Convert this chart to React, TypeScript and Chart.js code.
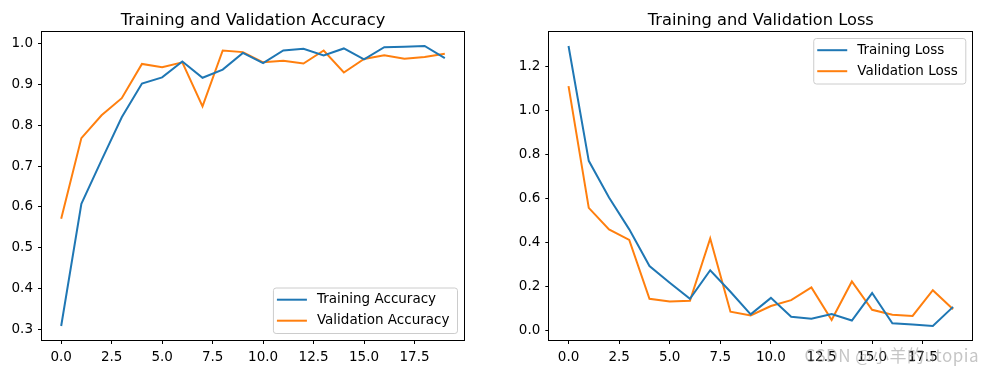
import React, { useEffect, useRef } from 'react';
import { Chart, registerables } from 'chart.js';

Chart.register(...registerables);

// ---------- data ----------
const epochs = [0, 1, 2, 3, 4, 5, 6, 7, 8, 9, 10, 11, 12, 13, 14, 15, 16, 17, 18, 19];
const trainAcc = [0.308, 0.608, 0.715, 0.82, 0.903, 0.918, 0.957, 0.917, 0.937, 0.978, 0.953, 0.984, 0.988, 0.972, 0.989, 0.962, 0.992, 0.993, 0.995, 0.965];
const valAcc = [0.571, 0.769, 0.825, 0.867, 0.951, 0.943, 0.955, 0.847, 0.984, 0.98, 0.955, 0.959, 0.952, 0.984, 0.93, 0.963, 0.972, 0.964, 0.968, 0.976];
const trainLoss = [1.295, 0.772, 0.605, 0.46, 0.293, 0.217, 0.144, 0.274, 0.176, 0.073, 0.148, 0.062, 0.053, 0.074, 0.045, 0.17, 0.032, 0.027, 0.02, 0.107];
const valLoss = [1.112, 0.558, 0.46, 0.412, 0.144, 0.132, 0.135, 0.419, 0.085, 0.068, 0.111, 0.138, 0.196, 0.047, 0.223, 0.094, 0.071, 0.066, 0.183, 0.096];
const xTicks = [0, 2.5, 5, 7.5, 10, 12.5, 15, 17.5];
const accTicks = [0.3, 0.4, 0.5, 0.6, 0.7, 0.8, 0.9, 1.0];
const lossTicks = [0, 0.2, 0.4, 0.6, 0.8, 1.0, 1.2];

const BLUE = '#1f77b4';
const ORANGE = '#ff7f0e';
const FONT = '"DejaVu Sans", sans-serif';

function limits(arrs: number[][]) {
  const all = arrs.flat();
  const lo = Math.min(...all);
  const hi = Math.max(...all);
  const m = (hi - lo) * 0.05;
  return [lo - m, hi + m];
}

const framePlugin = {
  id: 'mplFrame',
  afterDatasetsDraw(chart: any) {
    const { ctx, chartArea: a } = chart;
    ctx.save();
    ctx.strokeStyle = '#000';
    ctx.lineWidth = 1;
    const l = Math.round(a.left) - 0.5;
    const t = Math.round(a.top) - 0.5;
    const r = Math.round(a.right) + 0.5;
    const b = Math.round(a.bottom) + 0.5;
    ctx.strokeRect(l, t, r - l, b - t);
    ctx.restore();
  },
};

const titlePlugin = {
  id: 'mplTitle',
  afterDraw(chart: any, _args: any, opts: any) {
    const { ctx, chartArea: a } = chart;
    ctx.save();
    ctx.font = `16.25px ${FONT}`;
    ctx.fillStyle = '#000';
    ctx.textAlign = 'center';
    ctx.textBaseline = 'alphabetic';
    ctx.fillText(opts.text, (a.left + a.right) / 2, a.top - 7.5);
    ctx.restore();
  },
};

const legendPlugin = {
  id: 'mplLegend',
  afterDraw(chart: any, _args: any, opts: any) {
    const { ctx, chartArea: a } = chart;
    const fs = 13.5;
    ctx.save();
    ctx.font = `${fs}px ${FONT}`;
    const items = chart.data.datasets.map((d: any) => ({ label: d.label, color: d.borderColor }));
    const tw = Math.max(...items.map((i: any) => ctx.measureText(i.label).width));
    const w = 43.5 + tw + 8;
    const h = 45.5;
    const pad = 6.5;
    const x = a.right - pad - w;
    const y = opts.loc === 'lower right' ? a.bottom - pad - h : a.top + pad;
    ctx.beginPath();
    ctx.roundRect(x, y, w, h, 2.7);
    ctx.fillStyle = 'rgba(255,255,255,0.8)';
    ctx.fill();
    ctx.strokeStyle = '#cccccc';
    ctx.lineWidth = 1;
    ctx.stroke();
    items.forEach((it: any, i: number) => {
      const cy = y + 11.7 + i * 21;
      ctx.beginPath();
      ctx.moveTo(x + 3.5, cy);
      ctx.lineTo(x + 33.5, cy);
      ctx.strokeStyle = it.color;
      ctx.lineWidth = 2;
      ctx.stroke();
      ctx.fillStyle = '#000';
      ctx.textBaseline = 'middle';
      ctx.textAlign = 'left';
      ctx.fillText(it.label, x + 43.5, cy);
    });
    ctx.restore();
  },
};

function makeConfig(opts: {
  title: string;
  labels: [string, string];
  series: [number[], number[]];
  yTicks: number[];
  yWidth: number;
  padRight: number;
  loc: string;
}) {
  const [ymin, ymax] = limits(opts.series);
  const [xmin, xmax] = limits([epochs]);
  const tickFont = { family: FONT, size: 13.5 };
  return {
    type: 'line' as const,
    data: {
      datasets: [
        {
          label: opts.labels[0],
          data: epochs.map((e, i) => ({ x: e, y: opts.series[0][i] })),
          borderColor: BLUE,
          backgroundColor: BLUE,
          borderWidth: 2,
          pointRadius: 0,
          tension: 0,
        },
        {
          label: opts.labels[1],
          data: epochs.map((e, i) => ({ x: e, y: opts.series[1][i] })),
          borderColor: ORANGE,
          backgroundColor: ORANGE,
          borderWidth: 2,
          pointRadius: 0,
          tension: 0,
        },
      ],
    },
    options: {
      animation: false,
      responsive: false,
      devicePixelRatio: 1,
      layout: { padding: { left: 0, top: 32, bottom: 0, right: opts.padRight } },
      plugins: {
        legend: { display: false },
        tooltip: { enabled: false },
        title: { display: false },
        mplTitle: { text: opts.title },
        mplLegend: { loc: opts.loc },
      },
      scales: {
        x: {
          type: 'linear',
          min: xmin,
          max: xmax,
          afterBuildTicks: (s: any) => {
            s.ticks = xTicks.map((v) => ({ value: v }));
          },
          afterFit: (s: any) => {
            s.height = 34;
          },
          ticks: {
            color: '#000',
            font: tickFont,
            padding: 5,
            maxRotation: 0,
            autoSkip: false,
            callback: (v: any) => Number(v).toFixed(1),
          },
          grid: { drawOnChartArea: false, drawTicks: true, tickLength: 4, color: '#000', lineWidth: 1 },
          border: { display: false },
        },
        y: {
          type: 'linear',
          min: ymin,
          max: ymax,
          afterBuildTicks: (s: any) => {
            s.ticks = opts.yTicks.map((v) => ({ value: v }));
          },
          afterFit: (s: any) => {
            s.width = opts.yWidth;
          },
          ticks: {
            color: '#000',
            font: tickFont,
            padding: 5,
            autoSkip: false,
            callback: (v: any) => Number(v).toFixed(1),
          },
          grid: { drawOnChartArea: false, drawTicks: true, tickLength: 4, color: '#000', lineWidth: 1 },
          border: { display: false },
        },
      },
    },
    plugins: [framePlugin, titlePlugin, legendPlugin],
  };
}

function Panel(props: { left: number; width: number; cfg: any }) {
  const ref = useRef<HTMLCanvasElement>(null);
  useEffect(() => {
    if (!ref.current) return;
    const chart = new Chart(ref.current, props.cfg);
    return () => chart.destroy();
  }, []);
  return (
    <canvas
      ref={ref}
      width={props.width}
      height={374}
      style={{ position: 'absolute', left: props.left, top: 0, width: props.width, height: 374 }}
    />
  );
}

export default function App() {
  const accCfg = makeConfig({
    title: 'Training and Validation Accuracy',
    labels: ['Training Accuracy', 'Validation Accuracy'],
    series: [trainAcc, valAcc],
    yTicks: accTicks,
    yWidth: 42,
    padRight: 26,
    loc: 'lower right',
  });
  const lossCfg = makeConfig({
    title: 'Training and Validation Loss',
    labels: ['Training Loss', 'Validation Loss'],
    series: [trainLoss, valLoss],
    yTicks: lossTicks,
    yWidth: 59.3,
    padRight: 8.7,
    loc: 'upper right',
  });
  return (
    <div style={{ position: 'fixed', left: 0, top: 0, width: 981, height: 374, background: '#fff', overflow: 'hidden' }}>
      <Panel left={0} width={490} cfg={accCfg} />
      <Panel left={490} width={491} cfg={lossCfg} />
      <span
        style={{
          position: 'absolute',
          right: 2,
          top: 344,
          fontFamily: '"Noto Sans CJK SC", "DejaVu Sans", sans-serif',
          fontSize: 17,
          lineHeight: '22px',
          letterSpacing: 0.5,
          color: 'rgba(150,150,150,0.55)',
          whiteSpace: 'nowrap',
        }}
      >
        CSDN @小羊的utopia
      </span>
    </div>
  );
}
